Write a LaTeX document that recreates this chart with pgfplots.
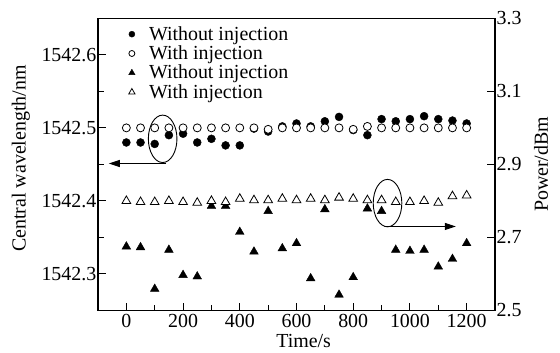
\documentclass[border=0pt]{standalone}
\usepackage{pgfplots}
\pgfplotsset{compat=1.18}
\usepackage{fontspec}
\setmainfont{Liberation Serif}
\usetikzlibrary{arrows.meta}

\pgfplotstableread{
t   wo    w
0    1542.480 1542.500
50   1542.480 1542.500
100  1542.478 1542.500
150  1542.490 1542.500
200  1542.492 1542.500
250  1542.480 1542.500
300  1542.485 1542.500
350  1542.476 1542.500
400  1542.476 1542.500
450  1542.499 1542.500
500  1542.495 1542.498
550  1542.502 1542.500
600  1542.506 1542.500
650  1542.502 1542.500
700  1542.509 1542.500
750  1542.515 1542.500
800  1542.497 1542.498
850  1542.490 1542.502
900  1542.512 1542.500
950  1542.509 1542.500
1000 1542.512 1542.500
1050 1542.516 1542.500
1100 1542.512 1542.500
1150 1542.510 1542.500
1200 1542.506 1542.500
}\wavetable

\pgfplotstableread{
t   wo    w
0    2.675 2.800
50   2.673 2.797
100  2.559 2.797
150  2.666 2.800
200  2.597 2.797
250  2.593 2.795
300  2.786 2.800
350  2.786 2.797
400  2.715 2.806
450  2.661 2.802
500  2.772 2.802
550  2.670 2.806
600  2.684 2.802
650  2.588 2.806
700  2.777 2.802
750  2.543 2.809
800  2.591 2.806
850  2.779 2.802
900  2.772 2.802
950  2.666 2.797
1000 2.663 2.797
1050 2.666 2.800
1100 2.620 2.795
1150 2.641 2.813
1200 2.684 2.815
}\powertable

\begin{document}
\begin{tikzpicture}[font=\fontsize{20}{24}\selectfont]
\pgfplotsset{
  every axis/.append style={
    scale only axis, width=397bp, height=292.2bp,
    xmin=-100, xmax=1300,
    /pgf/number format/assume math mode=true,
    font=\fontsize{20}{24}\selectfont,
    axis line style={-, line width=1.2bp},
    tick align=inside,
    major tick length=8bp, minor tick length=6bp,
    every tick/.style={line width=1bp, black},
    every minor tick/.style={line width=1bp, black},
  }
}
\begin{axis}[
  ymin=1542.25, ymax=1542.65,
  xtick={0,200,400,600,800,1000,1200},
  minor xtick={100,300,500,700,900,1100},
  ytick={1542.3,1542.4,1542.5,1542.6},
  minor ytick={1542.35,1542.45,1542.55},
  xtick pos=left, ytick pos=left,
  scaled y ticks=false,
  x tick label style={/pgf/number format/1000 sep={}},
  y tick label style={inner sep=1.5bp, /pgf/number format/fixed, /pgf/number format/fixed zerofill, /pgf/number format/precision=1, /pgf/number format/1000 sep={}},
  xlabel={Time/s},
  ylabel={Central wavelength/nm},
  xlabel style={at={(axis description cs:0.518,-0.106)}, anchor=center},
  ylabel style={at={(axis description cs:-0.194,0.52)}, anchor=center},
]
\coordinate (bl) at (rel axis cs:0,0);
\coordinate (tr) at (rel axis cs:1,1);
\addplot[only marks, mark=*, mark size=4bp, mark options={fill=black, draw=black}] table[x=t, y=wo] {\wavetable};
\addplot[only marks, mark=*, mark size=4bp, mark options={fill=white, draw=black, line width=0.8bp}] table[x=t, y=w] {\wavetable};
\draw[line width=0.9bp] (axis cs:128,1542.485) ellipse [x radius=14.3bp, y radius=23.7bp];
\draw[line width=1bp, -{Triangle[length=11bp, width=7bp]}] (axis cs:140,1542.4512) -- (axis cs:-62,1542.4512);
\draw[line width=0.9bp] (axis cs:921,1542.397) ellipse [x radius=14.3bp, y radius=23.7bp];
\draw[line width=1bp, -{Triangle[length=11bp, width=7bp]}] (axis cs:918,1542.365) -- (axis cs:1162,1542.365);
\end{axis}

\begin{axis}[
  ymin=2.5, ymax=3.3,
  axis x line=none, axis y line*=right,
  ytick={2.5,2.7,2.9,3.1,3.3},
  y tick label style={inner sep=1.5bp, /pgf/number format/fixed, /pgf/number format/fixed zerofill, /pgf/number format/precision=1},
  ylabel={Power/dBm},
  ylabel style={at={(axis description cs:1.116,0.5)}, anchor=center, rotate=0},
  legend style={at={(axis description cs:0.077,0.976)}, anchor=north west, draw=none, fill=none,
    inner sep=0pt, row sep=2bp, nodes={inner sep=1bp}, font=\fontsize{20}{24}\selectfont,
    /tikz/every odd column/.append style={column sep=13bp}},
  legend cell align=left,
]
\addlegendimage{only marks, mark=*, mark size=3bp, mark options={fill=black}}
\addlegendentry{Without injection}
\addlegendimage{only marks, mark=*, mark size=3bp, mark options={fill=white, draw=black, line width=0.8bp}}
\addlegendentry{With injection}
\addlegendimage{only marks, mark=triangle*, mark size=3.6bp, mark options={fill=black}}
\addlegendentry{Without injection}
\addlegendimage{only marks, mark=triangle*, mark size=3.6bp, mark options={fill=white, draw=black, line width=0.8bp}}
\addlegendentry{With injection}
\addplot[only marks, forget plot, mark=triangle*, mark size=5bp, mark options={fill=black, draw=black}] table[x=t, y=wo] {\powertable};
\addplot[only marks, forget plot, mark=triangle*, mark size=5bp, mark options={fill=white, draw=black, line width=0.8bp}] table[x=t, y=w] {\powertable};
\end{axis}
\path ([shift={(-98bp,-42.5bp)}]bl) rectangle ([shift={(65bp,18.3bp)}]tr);
\end{tikzpicture}
\end{document}
